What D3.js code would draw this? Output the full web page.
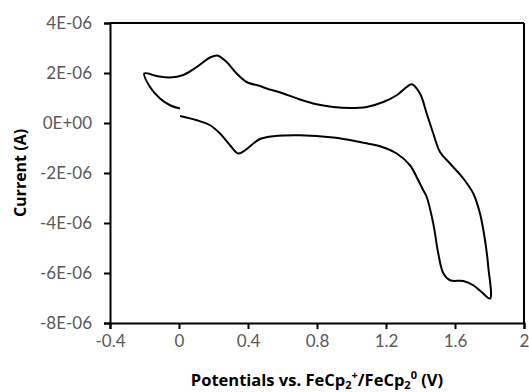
<!DOCTYPE html>
<html>
<head>
<meta charset="utf-8">
<script src="https://cdn.jsdelivr.net/npm/d3@7"></script>
<style>
  body { margin: 0; background: #fff; }
  svg { display: block; }
</style>
</head>
<body>
<div id="chart"></div>
<script>
// scan order: start at 0 V, forward to 1.8 V, back to -0.2 V, return to 0 V
const potential = [
  0.006, 0.103, 0.18, 0.238, 0.296, 0.344, 0.383, 0.431, 0.47, 0.547, 0.701, 0.894, 1.049, 1.165, 1.262,
  1.339, 1.387, 1.416, 1.436, 1.474, 1.503, 1.533, 1.571, 1.648, 1.706, 1.754, 1.803,
  1.793, 1.774, 1.745, 1.706, 1.648, 1.571, 1.513, 1.474, 1.436, 1.397, 1.349,
  1.32, 1.262, 1.184, 1.088, 0.991, 0.894, 0.798, 0.701, 0.605, 0.508, 0.47, 0.392, 0.334, 0.276,
  0.222, 0.18, 0.103, 0.025, -0.052, -0.129, -0.201,
  -0.168, -0.11, -0.052, 0.006
];
// current in microamps
const currentUA = [
  0.28, 0.11, -0.09, -0.42, -0.89, -1.22, -1.09, -0.82, -0.64, -0.53, -0.49, -0.58, -0.76, -0.93, -1.22,
  -1.69, -2.29, -2.69, -2.96, -4.02, -5.22, -6.02, -6.29, -6.32, -6.49, -6.76, -7.02,
  -5.76, -4.69, -3.62, -2.82, -2.22, -1.62, -1.16, -0.42, 0.38, 1.18, 1.55,
  1.44, 1.11, 0.84, 0.64, 0.6, 0.64, 0.75, 0.94, 1.18, 1.38, 1.48, 1.64, 1.98, 2.44,
  2.7, 2.62, 2.24, 1.92, 1.82, 1.88, 1.98,
  1.44, 0.98, 0.71, 0.58
];
const xTicks = [-0.4, 0, 0.4, 0.8, 1.2, 1.6, 2];
const yTicks = [-8e-6, -6e-6, -4e-6, -2e-6, 0, 2e-6, 4e-6];

const width = 529;
const height = 392;
const margin = { top: 23, right: 5, bottom: 69, left: 110 };
const w = width - margin.left - margin.right;
const h = height - margin.top - margin.bottom;

const data = potential.map((p, i) => ({ x: p, y: currentUA[i] * 1e-6 }));

// Excel style 0E+00
function fmtE(v) {
  if (v === 0) return '0E+00';
  const e = Math.floor(Math.log10(Math.abs(v)) + 1e-9);
  const m = Math.round(v / Math.pow(10, e));
  return m + 'E' + (e < 0 ? '-' : '+') + String(Math.abs(e)).padStart(2, '0');
}

const svg = d3.select('#chart')
  .append('svg')
  .attr('width', width)
  .attr('height', height);

const g = svg.append('g')
  .attr('transform', `translate(${margin.left},${margin.top})`);

const x = d3.scaleLinear().domain([-0.4, 2]).range([0, w]);
const y = d3.scaleLinear().domain([-8e-6, 4e-6]).range([h, 0]);

// frame top and right
g.append('line')
  .attr('x1', 0).attr('x2', w).attr('y1', 0).attr('y2', 0)
  .attr('stroke', '#000').attr('stroke-width', 2);
g.append('line')
  .attr('x1', w).attr('x2', w).attr('y1', 0).attr('y2', h)
  .attr('stroke', '#000').attr('stroke-width', 2);

const xAxis = g.append('g')
  .attr('transform', `translate(0,${h})`)
  .call(d3.axisBottom(x).tickValues(xTicks).tickSize(6).tickPadding(6)
    .tickFormat(d => String(+d.toFixed(1))));

const yAxis = g.append('g')
  .call(d3.axisLeft(y).tickValues(yTicks).tickSize(6).tickPadding(12).tickFormat(fmtE));

[xAxis, yAxis].forEach(a => {
  a.select('.domain').attr('stroke', '#000').attr('stroke-width', 2);
  a.selectAll('.tick line').attr('stroke', '#000').attr('stroke-width', 2);
  a.selectAll('.tick text')
    .attr('fill', '#595959')
    .style('font-family', 'Lato, "Open Sans", sans-serif')
    .style('font-size', '17px');
});

const line = d3.line()
  .x(d => x(d.x))
  .y(d => y(d.y))
  .curve(d3.curveCatmullRom.alpha(0.5));

g.append('path')
  .datum(data)
  .attr('fill', 'none')
  .attr('stroke', '#000')
  .attr('stroke-width', 2)
  .attr('stroke-linejoin', 'round')
  .attr('d', line);

// axis titles
const xt = svg.append('text')
  .attr('x', margin.left + w / 2)
  .attr('y', 386)
  .attr('text-anchor', 'middle')
  .style('font-family', '"Open Sans", sans-serif')
  .style('font-weight', 'bold')
  .style('font-size', '16.5px')
  .attr('fill', '#000');
xt.append('tspan').text('Potentials vs. FeCp');
xt.append('tspan').attr('dy', 3).style('font-size', '11px').text('2');
xt.append('tspan').attr('dy', -10).style('font-size', '11px').text('+');
xt.append('tspan').attr('dy', 7).text('/FeCp');
xt.append('tspan').attr('dy', 3).style('font-size', '11px').text('2');
xt.append('tspan').attr('dy', -10).style('font-size', '11px').text('0');
xt.append('tspan').attr('dy', 7).text(' (V)');

svg.append('text')
  .attr('transform', `translate(26,${margin.top + h / 2}) rotate(-90)`)
  .attr('text-anchor', 'middle')
  .style('font-family', '"Open Sans", sans-serif')
  .style('font-weight', 'bold')
  .style('font-size', '16px')
  .attr('fill', '#000')
  .text('Current (A)');
</script>
</body>
</html>
